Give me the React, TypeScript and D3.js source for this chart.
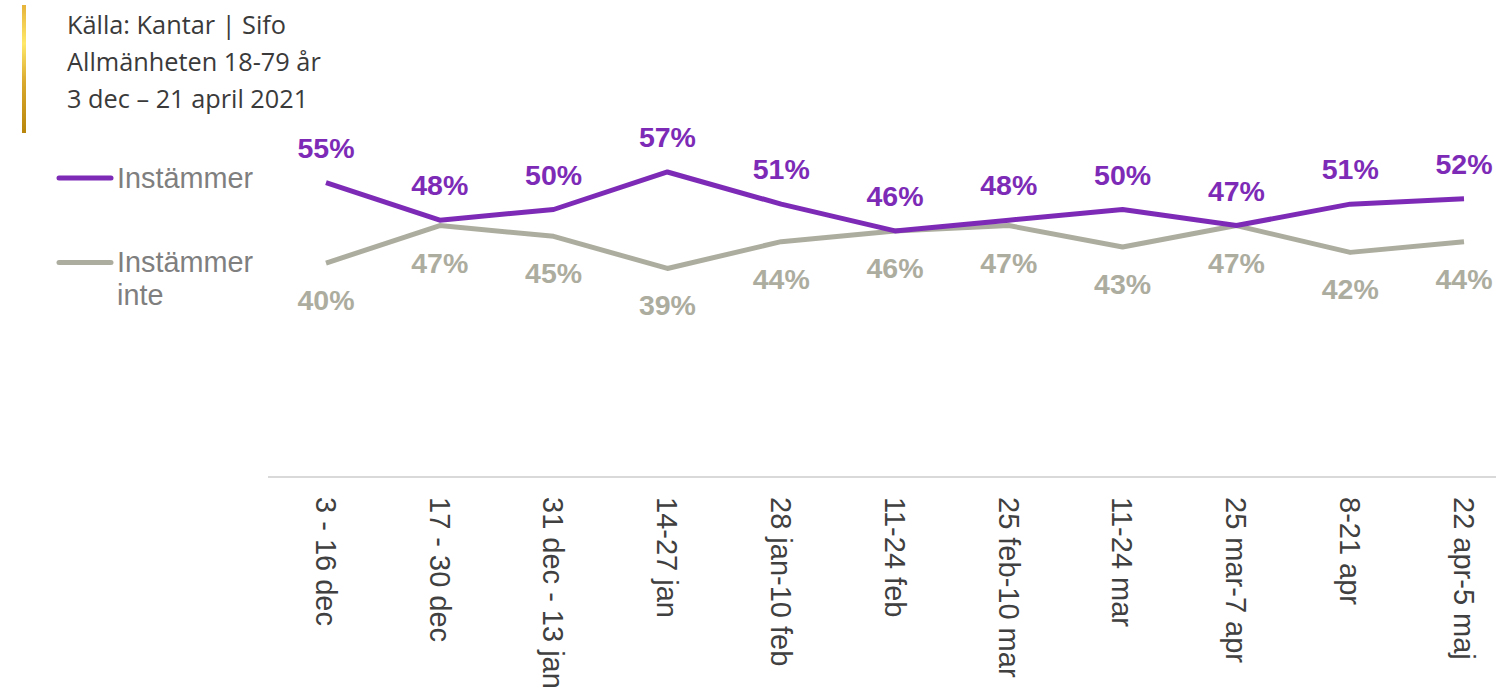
import React from "react";
import * as d3 from "d3";

const categories = ["3 - 16 dec", "17 - 30 dec", "31 dec - 13 jan", "14-27 jan", "28 jan-10 feb", "11-24 feb", "25 feb-10 mar", "11-24 mar", "25 mar-7 apr", "8-21 apr", "22 apr-5 maj"];
const instammer = [55, 48, 50, 57, 51, 46, 48, 50, 47, 51, 52];
const instammerInte = [40, 47, 45, 39, 44, 46, 47, 43, 47, 42, 44];
const headerLines = ["Källa: Kantar | Sifo", "Allmänheten 18-79 år", "3 dec – 21 april 2021"];

const PURPLE = "#7D2BB7";
const GRAY = "#ADAD9F";

export default function App() {
  const W = 1496, H = 687;
  const x = d3.scalePoint<string>().domain(categories).range([326, 1464]);
  const y = d3.scaleLinear().domain([0, 100]).range([477.5, 477.5 - 536]);
  const line = d3.line<number>().x((_, i) => x(categories[i])!).y((d) => y(d));
  const font = "'Liberation Sans', Arial, sans-serif";
  return (
    <svg width={W} height={H} style={{ position: "absolute", left: 0, top: 0 }}>
      <defs>
        <linearGradient id="gold" x1="0" y1="0" x2="0" y2="1">
          <stop offset="0" stopColor="#E6B43A" />
          <stop offset="0.3" stopColor="#FFE86A" />
          <stop offset="0.6" stopColor="#D9A92E" />
          <stop offset="1" stopColor="#B8860B" />
        </linearGradient>
      </defs>
      <rect x={22} y={5} width={4} height={128} fill="url(#gold)" />
      {headerLines.map((t, i) => (
        <text key={i} x={67} y={34 + i * 37} fontFamily="'Open Sans', sans-serif" fontSize={25.3} fill="#3a3a3a">{t}</text>
      ))}
      {/* legend */}
      <line x1={59} x2={111} y1={178} y2={178} stroke={PURPLE} strokeWidth={5} strokeLinecap="round" />
      <text x={117} y={188} fontFamily={font} fontSize={28.8} fill="#7f7f7f">Instämmer</text>
      <line x1={59} x2={111} y1={262.5} y2={262.5} stroke={GRAY} strokeWidth={5} strokeLinecap="round" />
      <text x={117} y={272} fontFamily={font} fontSize={28.8} fill="#7f7f7f">Instämmer</text>
      <text x={117} y={305} fontFamily={font} fontSize={28.8} fill="#7f7f7f">inte</text>
      {/* axis */}
      <line x1={268} x2={W} y1={477} y2={477} stroke="#d9d9d9" strokeWidth={2} />
      {categories.map((c) => (
        <text key={c} transform={`translate(${x(c)},497) rotate(90)`} dy="0.35em" fontFamily={font} fontSize={29} fill="#404040">{c}</text>
      ))}
      {/* lines */}
      <path d={line(instammerInte)!} fill="none" stroke={GRAY} strokeWidth={5} strokeLinejoin="round" />
      <path d={line(instammer)!} fill="none" stroke={PURPLE} strokeWidth={5} strokeLinejoin="round" />
      {instammer.map((v, i) => (
        <text key={"p" + i} x={x(categories[i])} y={y(v) - 25} textAnchor="middle" fontFamily={font} fontWeight="bold" fontSize={28.5} fill={PURPLE}>{v}%</text>
      ))}
      {instammerInte.map((v, i) => (
        <text key={"g" + i} x={x(categories[i])} y={y(v) + 47} textAnchor="middle" fontFamily={font} fontWeight="bold" fontSize={28.5} fill={GRAY}>{v}%</text>
      ))}
    </svg>
  );
}
